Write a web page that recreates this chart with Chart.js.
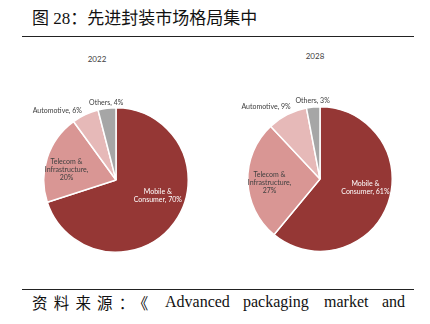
<!DOCTYPE html>
<html>
<head>
<meta charset="utf-8">
<script src="https://cdn.jsdelivr.net/npm/chart.js@4"></script>
<style>
  body { margin: 0; background: #fff; }
  #page { position: relative; width: 430px; height: 324px; overflow: hidden; background: #fff; }
  .title { position: absolute; left: 32px; top: 4px; font: 17px "Liberation Serif", "Noto Sans CJK SC"; color: #111; white-space: nowrap; }
  .rule { position: absolute; left: 22px; width: 392px; height: 1px; background: #222; }
  .year { position: absolute; font: 8px Lato, "Liberation Sans"; color: #404040; transform: translateX(-50%); }
  .src { position: absolute; top: 293px; color: #111; white-space: nowrap; }
  .src.cjk { left: 32px; letter-spacing: 6.2px; font: 15.5px/18px "Noto Sans CJK SC"; }
  .src.w { font: 16px/18px "Liberation Serif"; }
  canvas { position: absolute; }
</style>
</head>
<body>
<div id="page">
  <div class="title">图 28：先进封装市场格局集中</div>
  <div class="rule" style="top:36px"></div>
  <div class="year" style="left:97px; top:54px">2022</div>
  <div class="year" style="left:315px; top:51px">2028</div>
  <canvas id="pie2022" width="190" height="190" style="left:21px; top:85px"></canvas>
  <canvas id="pie2028" width="190" height="190" style="left:225px; top:84px"></canvas>
  <div class="rule" style="top:289px"></div>
  <div class="src cjk">资料来源：《</div>
  <span class="src w" style="left:165px">Advanced</span>
  <span class="src w" style="left:243px">packaging</span>
  <span class="src w" style="left:324px">market</span>
  <span class="src w" style="left:382px">and</span>
</div>
<script>
  // data
  const segments = ['Mobile &\nConsumer', 'Telecom &\nInfrastructure', 'Automotive', 'Others'];
  const share2022 = [70, 20, 6, 4];
  const share2028 = [61, 27, 9, 3];
  const pctOnOwnLine = [false, true, false, false];
  const sliceColors = ['#953735', '#d99694', '#e6b9b8', '#a6a6a6'];
  const labelColors = ['#ffffff', '#404040', '#404040', '#404040'];

  // label placement: inside slices use a fraction of radius, outside ones px beyond edge
  const place2022 = [
    { inside: true, r: 0.62, shift: -15 },
    { inside: true, r: 0.70, shift: -6 },
    { inside: false, r: 5, shift: -1 },
    { inside: false, r: 6, shift: 0 }
  ];
  const place2028 = [
    { inside: true, r: 0.64, shift: -9 },
    { inside: true, r: 0.70, shift: -2 },
    { inside: false, r: 6, shift: 5 },
    { inside: false, r: 6, shift: 0 }
  ];

  const sliceLabels = {
    id: 'sliceLabels',
    afterDatasetsDraw(chart, args, opts) {
      const ctx = chart.ctx;
      const meta = chart.getDatasetMeta(0);
      const values = chart.data.datasets[0].data;
      ctx.save();
      ctx.font = '7px Lato, "Liberation Sans"';
      ctx.textBaseline = 'middle';
      meta.data.forEach((arc, i) => {
        const p = arc.getProps(['x', 'y', 'startAngle', 'endAngle', 'outerRadius'], true);
        const pl = opts.place[i];
        const mid = (p.startAngle + p.endAngle) / 2 + pl.shift * Math.PI / 180;
        const r = pl.inside ? p.outerRadius * pl.r : p.outerRadius + pl.r;
        const x = p.x + Math.cos(mid) * r;
        const y = p.y + Math.sin(mid) * r;
        let text = segments[i] + ',' + (pctOnOwnLine[i] ? '\n' : ' ') + values[i] + '%';
        if (!pl.inside) text = text.replace('\n', ' ');
        const lines = text.split('\n');
        let align = 'center';
        if (!pl.inside) {
          const c = Math.cos(mid);
          if (c < -0.3) align = 'right';
          else if (c > 0.3) align = 'left';
        }
        ctx.textAlign = align;
        ctx.fillStyle = labelColors[i];
        const lh = 8;
        lines.forEach((ln, k) => {
          ctx.fillText(ln, x, y + (k - (lines.length - 1) / 2) * lh);
        });
      });
      ctx.restore();
    }
  };

  function makePie(id, values, place) {
    return new Chart(document.getElementById(id), {
      type: 'pie',
      data: {
        labels: segments,
        datasets: [{
          data: values,
          backgroundColor: sliceColors,
          borderColor: '#ffffff',
          borderWidth: 1.5
        }]
      },
      options: {
        responsive: false,
        animation: false,
        layout: { padding: 22 },
        plugins: {
          legend: { display: false },
          tooltip: { enabled: false },
          sliceLabels: { place: place }
        }
      },
      plugins: [sliceLabels]
    });
  }

  const chart2022 = makePie('pie2022', share2022, place2022);
  const chart2028 = makePie('pie2028', share2028, place2028);
</script>
</body>
</html>
